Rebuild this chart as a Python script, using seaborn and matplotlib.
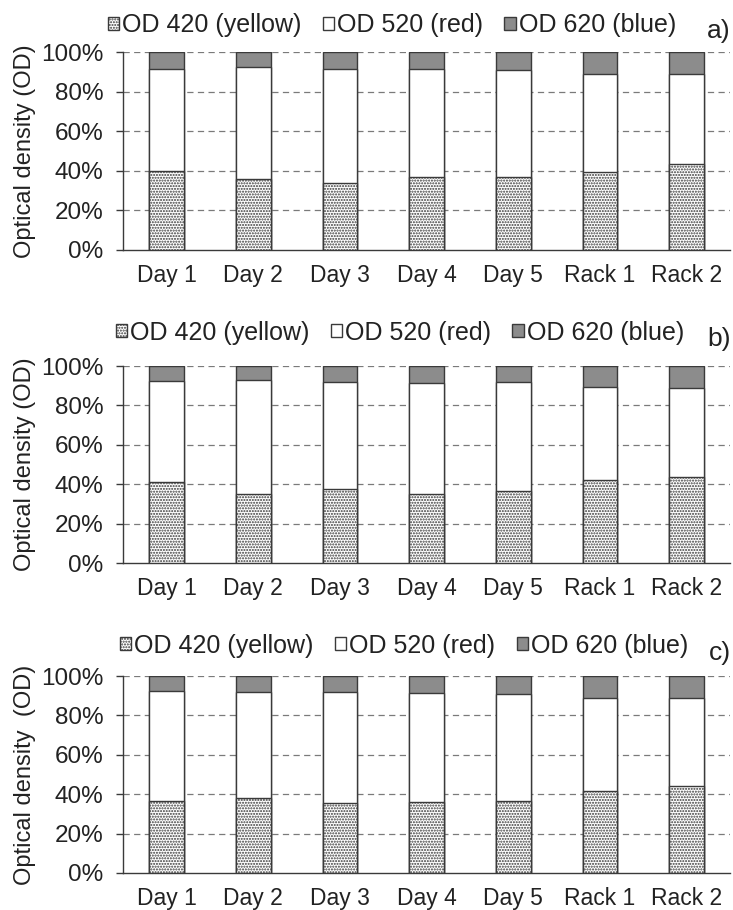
import matplotlib
matplotlib.use("Agg")
import matplotlib.pyplot as plt
import seaborn as sns
import pandas as pd
from matplotlib.patches import Patch

# Categories and stacked shares (% of total optical density)
categories = ["Day 1", "Day 2", "Day 3", "Day 4", "Day 5", "Rack 1", "Rack 2"]
series_names = ["OD 420 (yellow)", "OD 520 (red)", "OD 620 (blue)"]

od420_a = [39.9, 35.8, 33.8, 37.0, 37.0, 39.2, 43.6]
od520_a = [51.7, 56.6, 57.8, 54.4, 54.0, 49.5, 45.4]
od620_a = [8.4, 7.6, 8.4, 8.6, 9.0, 11.3, 11.0]

od420_b = [41.0, 35.0, 37.8, 35.0, 36.7, 41.9, 43.8]
od520_b = [51.4, 57.7, 54.3, 56.6, 55.2, 47.6, 44.9]
od620_b = [7.6, 7.3, 7.9, 8.4, 8.1, 10.5, 11.3]

od420_c = [36.5, 38.2, 35.7, 36.2, 36.7, 41.8, 44.4]
od520_c = [56.0, 53.8, 56.3, 55.3, 54.4, 47.3, 44.5]
od620_c = [7.5, 8.0, 8.0, 8.5, 8.9, 10.9, 11.1]

panel_labels = ["a)", "b)", "c)"]
ylabels = ["Optical density (OD)", "Optical density (OD)", "Optical density  (OD)"]
y_ticks = [0, 20, 40, 60, 80, 100]
y_ticklabels = ["0%", "20%", "40%", "60%", "80%", "100%"]

sns.set_theme(style="white")
plt.rcParams["font.family"] = ["Liberation Sans", "DejaVu Sans"]
plt.rcParams["hatch.linewidth"] = 1.0
plt.rcParams["hatch.color"] = "#555555"

EDGE = "#3a3a3a"
GREY = "#8c8c8c"
TXT = "#222222"

fig = plt.figure(figsize=(7.33, 9.10), dpi=100)

# axes rectangles [left, bottom, width, height]
rects = [
    [0.168, 0.7253, 0.828, 0.2175],
    [0.168, 0.3813, 0.828, 0.2165],
    [0.168, 0.0407, 0.828, 0.2164],
]
legend_anchor = [(0.443, 1.135), (0.456, 1.17), (0.463, 1.155)]
label_y = [0.966, 0.628, 0.282]

panels = [
    (od420_a, od520_a, od620_a),
    (od420_b, od520_b, od620_b),
    (od420_c, od520_c, od620_c),
]

for i, (y420, y520, y620) in enumerate(panels):
    ax = fig.add_axes(rects[i])
    df = pd.DataFrame({
        "category": categories,
        "yellow": y420,
        "red_top": [a + b for a, b in zip(y420, y520)],
        "total": [a + b + c for a, b, c in zip(y420, y520, y620)],
    })
    ax.set_axisbelow(True)
    for yv in y_ticks[1:]:
        ax.axhline(yv, color="#7a7a7a", lw=0.9, ls=(0, (5, 3.5)), zorder=0)

    # stacked layers drawn back to front
    sns.barplot(data=df, x="category", y="total", color=GREY, saturation=1,
                width=0.4, edgecolor=EDGE, linewidth=1.0, ax=ax, zorder=2)
    sns.barplot(data=df, x="category", y="red_top", color="white", saturation=1,
                width=0.4, edgecolor=EDGE, linewidth=1.0, ax=ax, zorder=3)
    sns.barplot(data=df, x="category", y="yellow", color="white", saturation=1,
                width=0.4, edgecolor=EDGE, linewidth=1.0, hatch="......",
                ax=ax, zorder=4)

    ax.set_xlim(-0.5, len(categories) - 0.5)
    ax.set_ylim(0, 100)
    ax.set_yticks(y_ticks)
    ax.set_yticklabels(y_ticklabels, fontsize=17.5, color=TXT)
    ax.set_xticks(range(len(categories)))
    ax.set_xticklabels(categories, fontsize=16.5, color=TXT)
    ax.set_xticks([k - 0.5 for k in range(len(categories) + 1)], minor=True)
    ax.tick_params(axis="x", which="major", length=0, pad=10)
    ax.tick_params(axis="x", which="minor", length=7, width=1.0, color=EDGE, direction="out")
    ax.tick_params(axis="y", length=5, width=1.0, color=EDGE, direction="out", pad=9, left=True)
    ax.set_xlabel("")
    ax.set_ylabel(ylabels[i], fontsize=17, color=TXT, labelpad=4)
    for s in ["top", "right"]:
        ax.spines[s].set_visible(False)
    for s in ["left", "bottom"]:
        ax.spines[s].set_color(EDGE)
        ax.spines[s].set_linewidth(1.0)

    handles = [
        Patch(facecolor="white", edgecolor=EDGE, hatch="......", label=series_names[0]),
        Patch(facecolor="white", edgecolor=EDGE, label=series_names[1]),
        Patch(facecolor=GREY, edgecolor=EDGE, label=series_names[2]),
    ]
    ax.legend(handles=handles, loc="center", bbox_to_anchor=legend_anchor[i], ncol=3,
              frameon=False, fontsize=18, handlelength=0.45, handleheight=0.45,
              handletextpad=0.12, columnspacing=0.85, borderaxespad=0, labelcolor=TXT)
    fig.text(0.997, label_y[i], panel_labels[i], ha="right", va="center",
             fontsize=19, color=TXT)

fig.savefig("out.png", dpi=100)
